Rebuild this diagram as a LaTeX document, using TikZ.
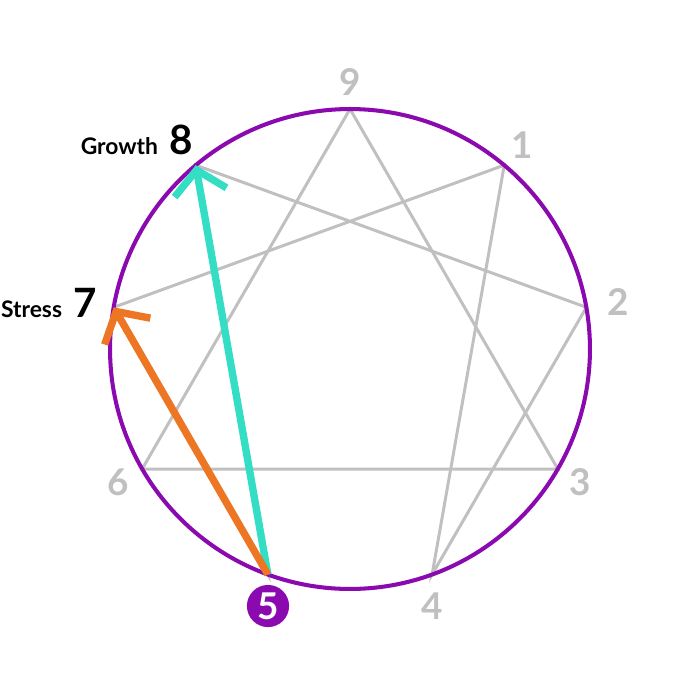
\documentclass[tikz,border=0pt]{standalone}
\usepackage{fontspec}
\setmainfont{Lato}
\usetikzlibrary{arrows.meta,calc}
\definecolor{ringpurple}{RGB}{138,10,176}
\definecolor{linegray}{RGB}{192,192,192}
\definecolor{growthcyan}{RGB}{52,222,196}
\definecolor{stressorange}{RGB}{236,118,36}
\tikzset{
  gline/.style={linegray, line width=1.7pt},
  move/.style={line width=4.2pt, -{Straight Barb[length=13pt,width=30pt,line width=4.2pt]}},
  pnum/.style={text=linegray, font=\bfseries\fontsize{21}{21}\selectfont, inner sep=0pt},
  side/.style={font=\bfseries\fontsize{13}{13}\selectfont, inner sep=0pt, anchor=base east}
}
\begin{document}
\begin{tikzpicture}[x=0.02cm,y=-0.02cm]
\useasboundingbox (0,0) rectangle (700,700);
\coordinate (c) at (350,349);
% points of the enneagram
\foreach \k in {1,...,9}
  \coordinate (p\k) at ($(c)+({240*cos(90-40*\k)},{-240*sin(90-40*\k)})$);
% inner figure
\draw [gline] (p9) -- (p3) -- (p6) -- cycle;
\draw [gline] (p1) -- (p4) -- (p2) -- (p8) -- (p5) -- (p7) -- cycle;
% ring
\draw [ringpurple, line width=2.3pt] (c) circle (4.8cm);
% growth and stress
\draw [move, growthcyan] (p5) -- (p8);
\draw [move, stressorange] (p5) -- (p7);
% numbers
\node [pnum] (n9) at (350,82) {9};
\node [pnum] (n1) at (522,145) {1};
\node [pnum] (n2) at (618,302) {2};
\node [pnum] (n3) at (580,482) {3};
\node [pnum] (n4) at (432,606) {4};
\node [pnum] (n6) at (118,482) {6};
\node [circle, fill=ringpurple, minimum size=24pt, inner sep=0pt, text=white,
  font=\bfseries\fontsize{21}{21}\selectfont] (n5) at (268,606) {5};
\node [font=\bfseries\fontsize{23}{23}\selectfont, inner sep=0pt] (n8) at (181,140) {8};
\node [side] (growth) at ([xshift=-6pt]n8.base west) {Growth};
\node [font=\bfseries\fontsize{23}{23}\selectfont, inner sep=0pt] (n7) at (85,303) {7};
\node [side] (stress) at ([xshift=-6pt]n7.base west) {Stress};
\end{tikzpicture}
\end{document}
